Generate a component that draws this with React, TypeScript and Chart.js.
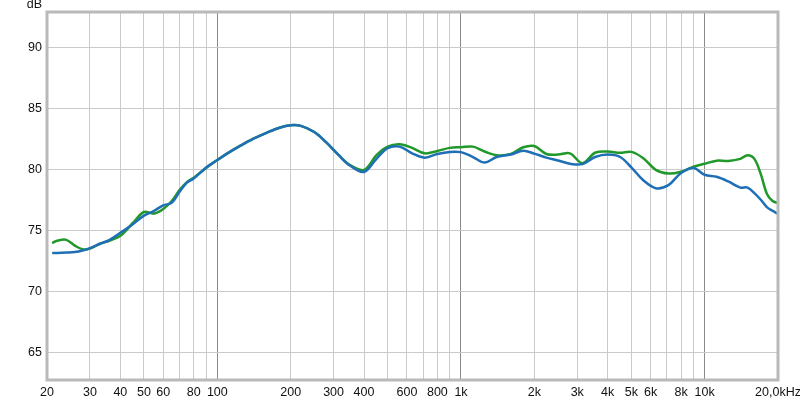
import { useEffect, useRef } from 'react';
import { Chart, registerables } from 'chart.js';

Chart.register(...registerables);

// Frequencies (Hz) at which both curves were read
const freqs = [21, 22, 24, 26, 28, 30, 33, 36, 40, 45, 50, 55, 60, 65, 70, 75, 80, 90, 100, 110, 125, 140, 160, 180, 200, 220, 250, 280, 315, 350, 400, 450, 500, 560, 630, 710, 800, 900, 1000, 1120, 1250, 1400, 1600, 1800, 2000, 2240, 2500, 2800, 3150, 3550, 4000, 4500, 5000, 5600, 6300, 7100, 8000, 9000, 10000, 11200, 12500, 14000, 15000, 16000, 17000, 18000, 19000, 20000];

// Blue curve (dB)
const blueValues = [73.14, 73.15, 73.18, 73.22, 73.35, 73.55, 73.9, 74.2, 74.8, 75.5, 76.2, 76.6, 77.05, 77.25, 78.15, 78.9, 79.25, 80.15, 80.75, 81.3, 81.95, 82.48, 83.0, 83.4, 83.6, 83.55, 83.05, 82.2, 81.15, 80.3, 79.78, 80.85, 81.72, 81.85, 81.3, 80.95, 81.25, 81.42, 81.4, 81.0, 80.55, 81.0, 81.2, 81.52, 81.28, 80.95, 80.72, 80.45, 80.42, 81.0, 81.2, 81.0, 80.15, 79.1, 78.45, 78.7, 79.7, 80.1, 79.55, 79.38, 79.0, 78.5, 78.5, 78.05, 77.5, 76.9, 76.6, 76.35];

// Green curve (dB)
const greenValues = [73.96, 74.15, 74.22, 73.75, 73.45, 73.5, 73.9, 74.15, 74.55, 75.6, 76.5, 76.37, 76.75, 77.4, 78.3, 78.95, 79.3, 80.1, 80.75, 81.3, 81.95, 82.48, 83.0, 83.4, 83.6, 83.55, 83.05, 82.2, 81.15, 80.35, 79.95, 81.15, 81.85, 82.05, 81.75, 81.3, 81.5, 81.75, 81.8, 81.85, 81.45, 81.15, 81.25, 81.8, 81.9, 81.25, 81.2, 81.3, 80.5, 81.35, 81.45, 81.34, 81.42, 80.9, 79.95, 79.65, 79.8, 80.2, 80.45, 80.7, 80.68, 80.85, 81.15, 80.85, 79.6, 78.0, 77.4, 77.24];

// X gridlines and their labels
const xGridFreqs = [20, 30, 40, 50, 60, 70, 80, 90, 100, 200, 300, 400, 500, 600, 700, 800, 900, 1000, 2000, 3000, 4000, 5000, 6000, 7000, 8000, 9000, 10000, 20000];
const xTickLabels = ['20', '30', '40', '50', '60', '', '80', '', '100', '200', '300', '400', '', '600', '', '800', '', '1k', '2k', '3k', '4k', '5k', '6k', '', '8k', '', '10k', '20,0kHz'];
const decadeFreqs = [100, 1000, 10000];

// Y ticks
const yTicks = [65, 70, 75, 80, 85, 90];
const yMin = 62.75;
const yMax = 92.87;

const FONT_FAMILY = '"Liberation Sans", Arial, sans-serif';
const FONT_SIZE = 12.5;

const framePlugin = {
  id: 'frame',
  afterDraw(chart: any) {
    const { ctx, chartArea: a } = chart;
    ctx.save();
    ctx.strokeStyle = '#b9b9b9';
    ctx.lineWidth = 3;
    ctx.strokeRect(a.left, a.top, a.right - a.left, a.bottom - a.top);
    ctx.fillStyle = '#111';
    ctx.font = `${FONT_SIZE}px ${FONT_FAMILY}`;
    ctx.textAlign = 'right';
    ctx.textBaseline = 'alphabetic';
    ctx.fillText('dB', 42, 8);
    ctx.restore();
  },
};

export default function App() {
  const ref = useRef<HTMLCanvasElement | null>(null);

  useEffect(() => {
    if (!ref.current) return;
    const labelFor = (v: number) => {
      const i = xGridFreqs.indexOf(v);
      return i >= 0 ? xTickLabels[i] : '';
    };
    const chart = new Chart(ref.current, {
      type: 'line',
      data: {
        datasets: [
          {
            label: 'blue',
            data: freqs.map((f, i) => ({ x: f, y: blueValues[i] })),
            borderColor: '#1f6fb6',
            borderWidth: 2.5,
            pointRadius: 0,
            tension: 0.35,
            fill: false,
          },
          {
            label: 'green',
            data: freqs.map((f, i) => ({ x: f, y: greenValues[i] })),
            borderColor: '#20982a',
            borderWidth: 2.5,
            pointRadius: 0,
            tension: 0.35,
            fill: false,
          },
        ],
      },
      options: {
        animation: false,
        responsive: false,
        maintainAspectRatio: false,
        layout: { padding: { top: 12, right: 22, left: 0, bottom: 0 } },
        plugins: { legend: { display: false }, tooltip: { enabled: false } },
        scales: {
          x: {
            type: 'logarithmic',
            min: 20,
            max: 20000,
            afterBuildTicks: (s: any) => {
              s.ticks = xGridFreqs.map((v) => ({ value: v }));
            },
            afterFit: (s: any) => {
              s.height = 20;
              s.paddingLeft = 0;
              s.paddingRight = 0;
            },
            border: { display: false },
            grid: {
              drawTicks: false,
              lineWidth: 1,
              color: (c: any) => {
                const v = c.tick ? c.tick.value : 0;
                if (v === 20 || v === 20000) return 'rgba(0,0,0,0)';
                return decadeFreqs.includes(v) ? '#8a8a8a' : '#cacaca';
              },
            },
            ticks: {
              autoSkip: false,
              maxRotation: 0,
              minRotation: 0,
              padding: 5,
              color: '#111',
              font: { family: FONT_FAMILY, size: FONT_SIZE },
              callback: (v: any) => labelFor(Number(v)),
            },
          },
          y: {
            type: 'linear',
            min: yMin,
            max: yMax,
            afterBuildTicks: (s: any) => {
              s.ticks = yTicks.map((v) => ({ value: v }));
            },
            afterFit: (s: any) => {
              s.width = 47;
              s.paddingTop = 0;
              s.paddingBottom = 0;
            },
            border: { display: false },
            grid: { drawTicks: false, color: '#cacaca', lineWidth: 1 },
            ticks: {
              padding: 5,
              color: '#111',
              font: { family: FONT_FAMILY, size: FONT_SIZE },
              callback: (v: any) => String(v),
            },
          },
        },
      },
      plugins: [framePlugin],
    } as any);
    return () => chart.destroy();
  }, []);

  return (
    <div style={{ position: 'fixed', left: 0, top: 0, width: 800, height: 400, background: '#fff' }}>
      <canvas ref={ref} width={800} height={400} style={{ display: 'block', width: 800, height: 400 }} />
    </div>
  );
}
